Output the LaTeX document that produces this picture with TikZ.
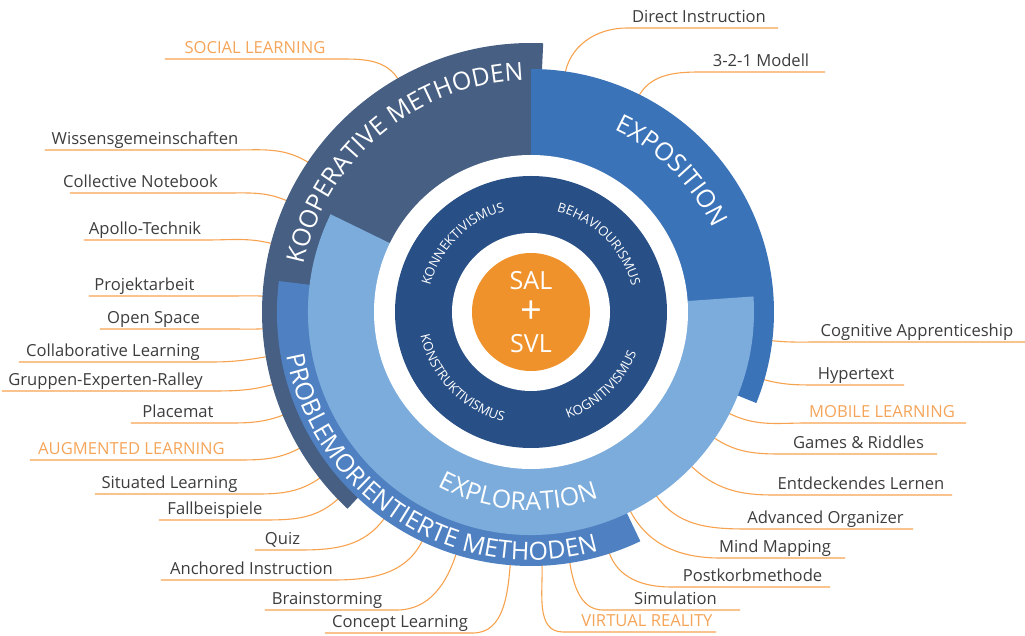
\documentclass[tikz,border=0pt]{standalone}
\usepackage{fontspec}
\setmainfont{Open Sans}
\usetikzlibrary{decorations.text}

\definecolor{koop}{HTML}{465F83}
\definecolor{expo}{HTML}{3B73B8}
\definecolor{probl}{HTML}{4F81C2}
\definecolor{explo}{HTML}{7BACDB}
\definecolor{kern}{HTML}{284F86}
\definecolor{mitte}{HTML}{F0922B}
\definecolor{strich}{HTML}{F7A24E}
\definecolor{orlbl}{HTML}{F5A55A}
\definecolor{grlbl}{HTML}{3D3D3D}

\newcommand{\grossbogen}{\fontsize{25}{25}\selectfont}
\newcommand{\kleinbogen}{\fontsize{13}{13}\selectfont}

% name/text x/linie y/ende x/knick x/winkel/radius/stil/text
\def\links{soc/-276/253/-366/-191/119.7/270/akzent/SOCIAL LEARNING,
  wis/-386/162/-486/-298/146.1/269/grau/Wissensgemeinschaften,
  col/-390.5/119/-461/-304/155.5/270/grau/Collective Notebook,
  apo/-386/72/-447/-324/165.2/270/grau/Apollo-Technik,
  pro/-386.5/16/-442/-300/176.6/268/grau/Projektarbeit,
  ope/-377.5/-17/-431/-300/183.6/268/grau/Open Space,
  cle/-418/-50/-512/-320/189.6/270/grau/Collaborative Learning,
  gru/-425.5/-79/-529/-320/195.7/269/grau/Gruppen-Experten-Ralley,
  pla/-353/-111/-400/-312/202.6/268/grau/Placemat,
  aug/-399.5/-148/-501/-300/210.5/268/akzent/AUGMENTED LEARNING,
  sit/-361.5/-182/-436/-290/218.2/268/grau/Situated Learning,
  fal/-316/-208/-372/-266/224.1/270/grau/Fallbeispiele,
  qui/-248.5/-238/-276/-231/234.6/256/grau/Quiz,
  anc/-279.5/-268/-370/-198/244.6/256/grau/Anchored Instruction,
  bra/-204/-298/-266/-134/252.8/256/grau/Brainstorming,
  con/-131/-321/-206/-58/265.3/256/grau/Concept Learning}
\def\rechts{vr/116/-320/185/32/272.5/256/akzent/VIRTUAL REALITY,
  sim/144.5/-298/209/72/278.8/256/grau/Simulation,
  pos/221.5/-275/299/140/288/256/grau/Postkorbmethode,
  min/244/-246/314/189/296.5/224/grau/Mind Mapping,
  adv/294.5/-217/382/216/304.3/225/grau/Advanced Organizer,
  ent/330/-183/421/242/316.1/225/grau/Entdeckendes Lernen,
  gam/327.5/-142/406/262/325.5/225/grau/Games \& Riddles,
  mob/351/-111/435/276/332.9/225/akzent/MOBILE LEARNING,
  hyp/325/-73/373/286/343.8/243/grau/Hypertext,
  cog/386/-30/494/289/353.2/243/grau/Cognitive Apprenticeship,
  mod/230/240/294/169/63.5/243/grau/3-2-1 Modell,
  dir/168/284/247/96/81.9/242/grau/Direct Instruction}

\tikzset{
  fuehrung/.style={draw=strich, line width=1.1pt},
  beschr/.style={anchor=base, inner sep=0pt, font=\fontsize{16.6}{16.6}\selectfont},
  akzent/.style={text=orlbl},
  grau/.style={text=grlbl},
  kreistext/.style={white, font=\fontsize{25}{25}\selectfont, inner sep=0pt},
}

\begin{document}
\begin{tikzpicture}[x=1pt, y=1pt]
  \useasboundingbox (-531,-324) rectangle (494,312);

  % ---------------- Beschriftungen und Fuehrungslinien ----------------
  \foreach \nm/\tx/\ty/\fx/\kx/\wi/\ra/\st/\txt in \links {
    \node[beschr, \st] (t\nm) at (\tx,\ty+5) {\txt};
    \coordinate (f\nm) at (\fx,\ty);
    \coordinate (k\nm) at (\kx,\ty);
    \coordinate (r\nm) at (\wi:{\ra-4});
    \draw[fuehrung] (f\nm) -- (k\nm) to[out=0, in=\wi] (r\nm);
  }
  \foreach \nm/\tx/\ty/\fx/\kx/\wi/\ra/\st/\txt in \rechts {
    \node[beschr, \st] (t\nm) at (\tx,\ty+5) {\txt};
    \coordinate (f\nm) at (\fx,\ty);
    \coordinate (k\nm) at (\kx,\ty);
    \coordinate (r\nm) at (\wi:{\ra-4});
    \draw[fuehrung] (f\nm) -- (k\nm) to[out=180, in=\wi] (r\nm);
  }

  % ---------------- Sektoren ----------------
  \fill[koop] (0,0) -- (87.4:269) arc[start angle=87.4, end angle=227, radius=269] -- cycle;
  \fill[expo] (0,0) -- (-22:243) arc[start angle=-22, end angle=90, radius=243] -- cycle;
  \fill[probl] (0,0) -- (173:254) arc[start angle=173, end angle=295.5, radius=254] -- cycle;
  \fill[explo] (0,0) -- (154:223) arc[start angle=154, end angle=364, radius=223] -- cycle;

  % ---------------- Kern ----------------
  \fill[white] (0,0) circle[radius=157];
  \fill[kern] (0,0) circle[radius=136];
  \fill[white] (0,0) circle[radius=79];
  \fill[mitte] (0,0) circle[radius=59];

  % ---------------- Bogentexte ----------------
  \path[decorate, decoration={text along path, text align=center, text color=white,
    text={|\grossbogen|KOOPERATIVE METHODEN}}]
    (180:232) arc[start angle=180, end angle=80, radius=232];
  \path[decorate, decoration={text along path, text align=center, text color=white,
    text={|\grossbogen|EXPOSITION}}]
    (95:200) arc[start angle=95, end angle=-5, radius=200];
  \path[decorate, decoration={text along path, text align=center, text color=white,
    text={|\grossbogen|EXPLORATION}}]
    (211:198) arc[start angle=211, end angle=321, radius=198];
  \path[decorate, decoration={text along path, text align=center, text color=white,
    text={|\grossbogen|PROBLEMORIENTIERTE METHODEN}}]
    (178:248) arc[start angle=178, end angle=298, radius=248];

  \path[decorate, decoration={text along path, text align=center, text color=white,
    text={|\kleinbogen|KONNEKTIVISMUS}}]
    (180:104) arc[start angle=180, end angle=90, radius=104];
  \path[decorate, decoration={text along path, text align=center, text color=white,
    text={|\kleinbogen|BEHAVIOURISMUS}}]
    (90:104) arc[start angle=90, end angle=0, radius=104];
  \path[decorate, decoration={text along path, text align=center, text color=white,
    text={|\kleinbogen|KONSTRUKTIVISMUS}}]
    (179:113) arc[start angle=179, end angle=269, radius=113];
  \path[decorate, decoration={text along path, text align=center, text color=white,
    text={|\kleinbogen|KOGNITIVISMUS}}]
    (269:113) arc[start angle=269, end angle=359, radius=113];

  % ---------------- Mitte ----------------
  \node[kreistext] (sal) at (0,31) {SAL};
  \node[kreistext, font=\fontsize{38}{38}\selectfont] (plus) at (0,0) {+};
  \node[kreistext] (svl) at (0,-32) {SVL};
\end{tikzpicture}
\end{document}
